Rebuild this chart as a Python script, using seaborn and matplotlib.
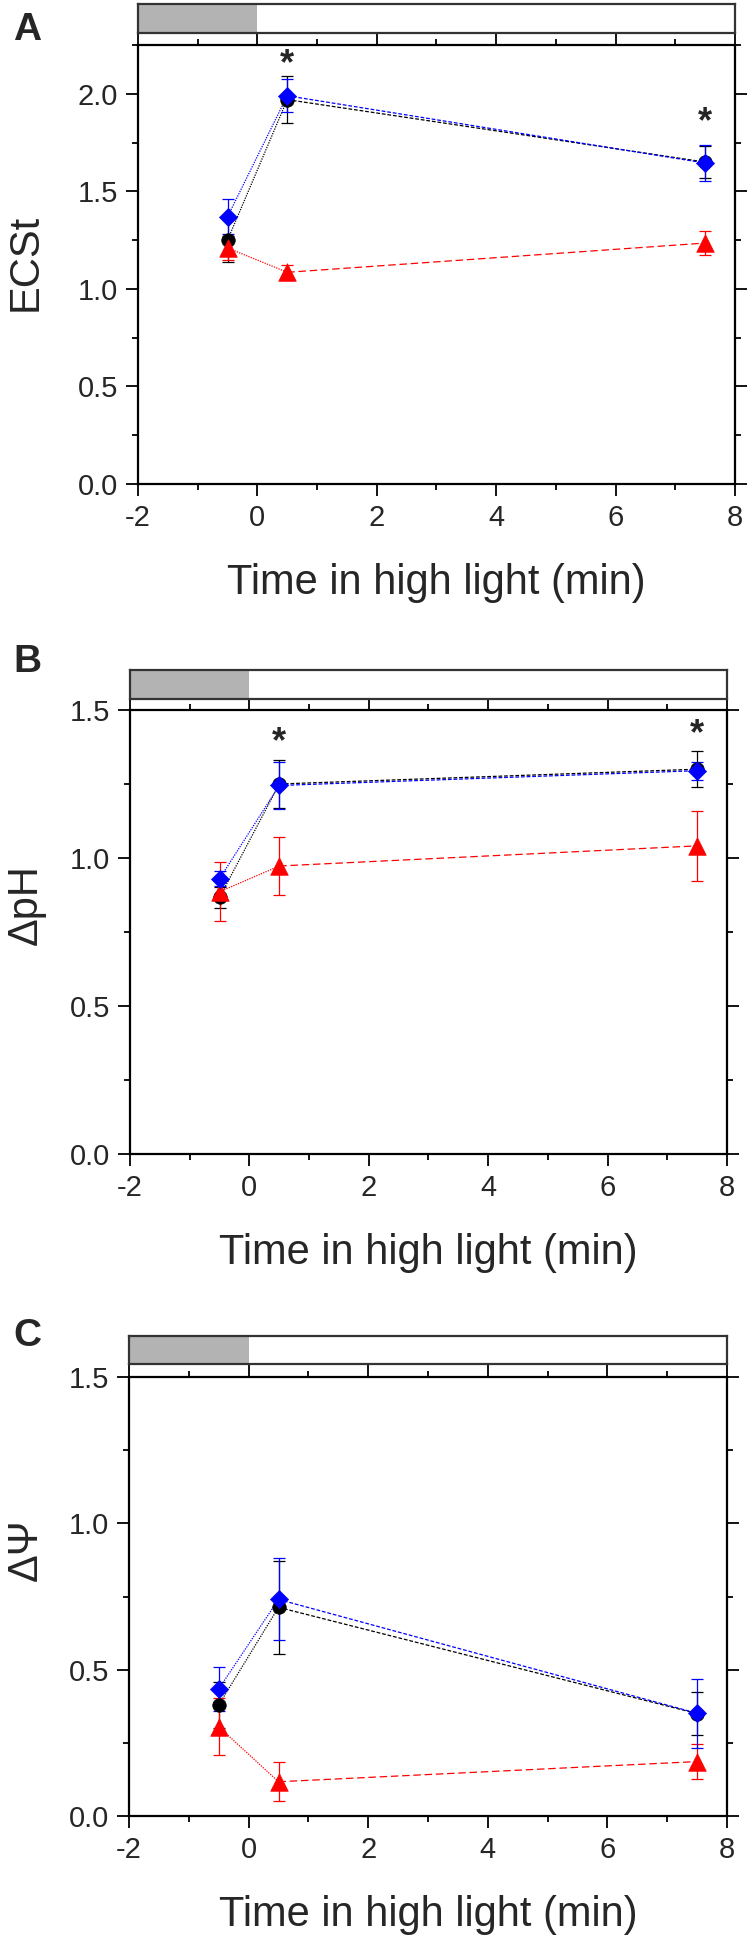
import numpy as np
import pandas as pd
import matplotlib
matplotlib.use("Agg")
import matplotlib.pyplot as plt
import seaborn as sns
from matplotlib.ticker import MultipleLocator

sns.set_style("ticks")
plt.rcParams['font.family'] = ['Liberation Sans', 'DejaVu Sans']
plt.rcParams['axes.unicode_minus'] = False

# sampling times (min)
time = [-0.5, 0.5, 7.5]

# A: ECSt
ecst_black = [1.25, 1.97, 1.65]
ecst_black_err = [0.11, 0.12, 0.08]
ecst_blue = [1.37, 1.99, 1.645]
ecst_blue_err = [0.09, 0.085, 0.09]
ecst_red = [1.21, 1.085, 1.235]
ecst_red_err = [0.06, 0.04, 0.06]

# B: delta pH
dph_black = [0.867, 1.25, 1.30]
dph_black_err = [0.035, 0.08, 0.06]
dph_blue = [0.93, 1.245, 1.295]
dph_blue_err = [0.025, 0.08, 0.03]
dph_red = [0.886, 0.973, 1.041]
dph_red_err = [0.10, 0.097, 0.118]

# C: delta psi
dpsi_black = [0.379, 0.713, 0.35]
dpsi_black_err = [0.08, 0.16, 0.072]
dpsi_blue = [0.434, 0.740, 0.351]
dpsi_blue_err = [0.074, 0.14, 0.118]
dpsi_red = [0.305, 0.117, 0.186]
dpsi_red_err = [0.097, 0.066, 0.06]

panels = [
    dict(letter="A", ylabel="ECSt", ylim=2.25,
         series=[(ecst_black, ecst_black_err), (ecst_red, ecst_red_err), (ecst_blue, ecst_blue_err)],
         stars=[(0.5, 2.15), (7.5, 1.85)]),
    dict(letter="B", ylabel="ΔpH", ylim=1.5,
         series=[(dph_black, dph_black_err), (dph_red, dph_red_err), (dph_blue, dph_blue_err)],
         stars=[(0.5, 1.39), (7.5, 1.415)]),
    dict(letter="C", ylabel="ΔΨ", ylim=1.5,
         series=[(dpsi_black, dpsi_black_err), (dpsi_red, dpsi_red_err), (dpsi_blue, dpsi_blue_err)],
         stars=[]),
]

colors = ["black", "red", "blue"]
markers = ["o", "^", "D"]
sizes = [95, 160, 85]
seg2_style = [(0, (3, 1.5)), (0, (6, 3)), (0, (3, 1.5))]

# layout in pixels: (axes left, axes right, axes top, axes bottom, bar top, bar bottom)
W, H = 747, 1945
boxes = [(138, 735, 45, 484, 4, 33),
         (130, 727, 710, 1154, 670, 699),
         (129, 727, 1377, 1816, 1336, 1364)]
ylabel_pos = [(26, 262), (26, 905), (26, 1550)]
letter_pos = [(27, 30), (27, 662), (27, 1336)]

fig = plt.figure(figsize=(W / 100, H / 100), dpi=100)

for p, box, ylp, lp in zip(panels, boxes, ylabel_pos, letter_pos):
    l, r, t, b, bt, bb = box
    ax = fig.add_axes([l / W, 1 - b / H, (r - l) / W, (b - t) / H])
    bar = fig.add_axes([l / W, 1 - bb / H, (r - l) / W, (bb - bt) / H])

    for k, (vals, err) in enumerate(p["series"]):
        c = colors[k]
        sns.lineplot(x=time[:2], y=vals[:2], ax=ax, color=c, lw=0.9,
                     linestyle=(0, (1, 1)), zorder=2 + k)
        sns.lineplot(x=time[1:], y=vals[1:], ax=ax, color=c, lw=0.9,
                     linestyle=seg2_style[k], zorder=2 + k)
        ax.errorbar(time, vals, yerr=err, fmt="none", ecolor=c, elinewidth=0.9,
                    capsize=4.5, capthick=0.9, zorder=2 + k)
        sns.scatterplot(x=time, y=vals, ax=ax, marker=markers[k], s=sizes[k],
                        color=c, edgecolor=c, linewidth=0.5, zorder=5 + k)

    for sx, sy in p["stars"]:
        ax.text(sx, sy, "*", ha="center", va="center", fontsize=26,
                fontweight="bold")

    ax.set_xlim(-2, 8)
    ax.set_ylim(0, p["ylim"])
    ax.xaxis.set_major_locator(MultipleLocator(2))
    ax.xaxis.set_minor_locator(MultipleLocator(1))
    ax.yaxis.set_major_locator(MultipleLocator(0.5))
    ax.yaxis.set_minor_locator(MultipleLocator(0.25))
    ax.tick_params(which="both", direction="out", top=True, right=True,
                   labeltop=False, labelright=False, width=1.3, color="black")
    ax.tick_params(which="major", length=8.5, labelsize=21, pad=6)
    ax.tick_params(which="minor", length=4.3)
    for s in ax.spines.values():
        s.set_visible(True)
        s.set_linewidth(1.6)
        s.set_color("black")
    ax.set_xlabel("Time in high light (min)", fontsize=30, labelpad=22)
    ax.set_ylabel("")
    fig.text(ylp[0] / W, 1 - ylp[1] / H, p["ylabel"], rotation=90,
             ha="center", va="center", fontsize=30)
    fig.text(lp[0] / W, 1 - lp[1] / H, p["letter"], ha="center", va="center",
             fontsize=28, fontweight="bold")

    bar.set_xlim(-2, 8)
    bar.set_ylim(0, 1)
    bar.axvspan(-2, 0, color="#b3b3b3", lw=0)
    bar.set_xticks([])
    bar.set_yticks([])
    for s in bar.spines.values():
        s.set_visible(True)
        s.set_linewidth(1.6)
        s.set_color("#333333")

fig.savefig("out.png", dpi=100)
